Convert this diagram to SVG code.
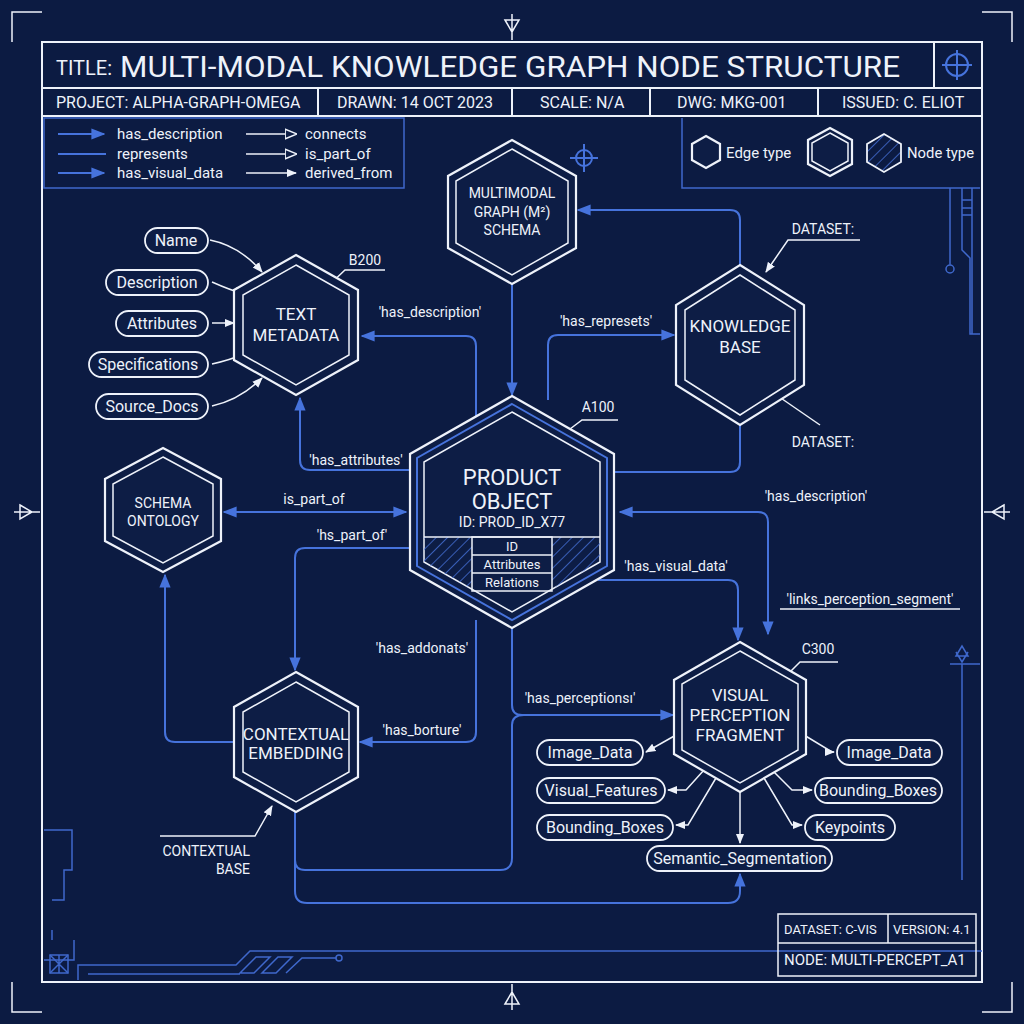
<svg xmlns="http://www.w3.org/2000/svg" width="1024" height="1024" viewBox="0 0 1024 1024">
<defs>
<style>
text{font-family:"Roboto","Liberation Sans",sans-serif;fill:#eef2fa}
.w{fill:none;stroke:#eef2fa;stroke-width:2}
.wt{fill:none;stroke:#eef2fa;stroke-width:1.5}
.b{fill:none;stroke:#4673dc;stroke-width:2}
.bt{fill:none;stroke:#3f68cc;stroke-width:1.5}
.hx{fill:#0d1d45;stroke:#eef2fa;stroke-width:2.2}
.pill{fill:#0d1d45;stroke:#eef2fa;stroke-width:1.8}
.pt{font-size:16px;text-anchor:middle}
.lb{font-size:14px;text-anchor:middle}
.nt{font-size:17px;text-anchor:middle}
</style>
<marker id="ab" viewBox="0 0 10 10" refX="9" refY="5" markerWidth="7" markerHeight="7" orient="auto-start-reverse"><path d="M0,1 L10,5 L0,9 z" fill="#4673dc"/></marker>
<marker id="aw" viewBox="0 0 10 10" refX="9" refY="5" markerWidth="7" markerHeight="7" orient="auto-start-reverse"><path d="M0,1 L10,5 L0,9 z" fill="#eef2fa"/></marker>
<marker id="ao" viewBox="0 0 10 10" refX="9" refY="5" markerWidth="8" markerHeight="8" orient="auto"><path d="M0,1 L10,5 L0,9 z" fill="#0d1d45" stroke="#eef2fa" stroke-width="1.2"/></marker>
<pattern id="hatch" width="8" height="8" patternUnits="userSpaceOnUse" patternTransform="rotate(45)"><line x1="0" y1="0" x2="0" y2="8" stroke="#4673dc" stroke-width="1.5"/></pattern>
<clipPath id="pclip"><polygon points="512,412 600,462 600,562 512,612 424,562 424,462"/></clipPath>
</defs>
<rect width="1024" height="1024" fill="#0c1b42"/>

<g id="frame">
<rect x="42" y="42" width="940" height="940" class="w"/>
<line x1="42" y1="88" x2="982" y2="88" class="w"/>
<line x1="42" y1="116" x2="982" y2="116" class="w"/>
<line x1="318" y1="88" x2="318" y2="116" class="w"/>
<line x1="512" y1="88" x2="512" y2="116" class="w"/>
<line x1="650" y1="88" x2="650" y2="116" class="w"/>
<line x1="818" y1="88" x2="818" y2="116" class="w"/>
<line x1="934" y1="42" x2="934" y2="88" class="w"/>
<text x="56" y="75" font-size="20">TITLE:</text>
<text x="120" y="77" font-size="30" textLength="780" lengthAdjust="spacingAndGlyphs">MULTI-MODAL KNOWLEDGE GRAPH NODE STRUCTURE</text>
<circle cx="957" cy="65" r="11" class="b"/><line x1="942" y1="65" x2="972" y2="65" class="b"/><line x1="957" y1="50" x2="957" y2="80" class="b"/>
<text x="56" y="108" font-size="16">PROJECT: ALPHA-GRAPH-OMEGA</text>
<text x="337" y="108" font-size="16">DRAWN: 14 OCT 2023</text>
<text x="540" y="108" font-size="16">SCALE: N/A</text>
<text x="677" y="108" font-size="16">DWG: MKG-001</text>
<text x="842" y="108" font-size="16">ISSUED: C. ELIOT</text>
<path d="M12,42 V12 H42 M982,12 H1012 V42 M12,982 V1012 H42 M982,1012 H1012 V982" class="wt"/>
<path d="M512,14 V40 M505,20 L512,32 L519,20 z M512,984 V1010 M505,1004 L512,992 L519,1004 z M14,512 H40 M20,505 L32,512 L20,519 z M984,512 H1010 M1004,505 L992,512 L1004,519 z" class="wt"/>
<circle cx="584" cy="158" r="8" class="b"/><path d="M570,158 H598 M584,144 V172" class="b"/>
</g>

<g id="legend-edges">
<rect x="44" y="118" width="360" height="70" class="bt"/>
<line x1="58" y1="134" x2="104" y2="134" class="b" marker-end="url(#ab)"/><text x="117" y="139" font-size="15">has_description</text>
<line x1="58" y1="154" x2="106" y2="154" class="b"/><text x="117" y="159" font-size="15">represents</text>
<line x1="58" y1="173" x2="104" y2="173" class="b" marker-end="url(#ab)"/><text x="117" y="178" font-size="15">has_visual_data</text>
<line x1="246" y1="134" x2="296" y2="134" class="wt" marker-end="url(#ao)"/><text x="305" y="139" font-size="15">connects</text>
<line x1="246" y1="154" x2="296" y2="154" class="wt" marker-end="url(#ao)"/><text x="305" y="159" font-size="15">is_part_of</text>
<line x1="246" y1="173" x2="296" y2="173" class="wt" marker-end="url(#aw)"/><text x="305" y="178" font-size="15">derived_from</text>
</g>
<g id="legend-nodes">
<path d="M682,118 V188 H980" class="bt"/>
<polygon points="706,136 720,144 720,160 706,168 692,160 692,144" class="hx"/>
<text x="726" y="158" font-size="15">Edge type</text>
<polygon points="830,128 852,140 852,164 830,176 808,164 808,140" class="hx"/>
<polygon points="830,133 848,143 848,161 830,171 812,161 812,143" class="wt"/>
<polygon points="884,134 901,144 901,162 884,172 867,162 867,144" fill="url(#hatch)" stroke="#eef2fa" stroke-width="1.8"/>
<text x="907" y="158" font-size="15" textLength="67" lengthAdjust="spacingAndGlyphs">Node type</text>
</g>

<g id="decor">
<path d="M950,188 V265 M946,269 a4,4 0 1 0 8,0 a4,4 0 1 0 -8,0 M962,188 V250 L970,258 V334 H980 M972,188 V334 M962,200 H972 M962,208 H972 M962,215 H972" class="bt"/>
<path d="M962,664 V880 M950,664 H980 M956,656 L962,646 L968,656 z M956,652 L962,662 L968,652" class="bt"/>
<path d="M44,830 H72 V870 H64 V900 H52 M52,930 V940 M44,960 H74 V940" class="bt"/>
<rect x="50" y="955" width="18" height="18" class="bt"/><path d="M50,955 L68,973 M68,955 L50,973 M59,955 V973" class="bt"/>
<path d="M78,980 V965 H236 L250,951 H982 M88,974 H240 M240,973 L256,957 H270 L254,973 z M262,973 L278,957 H292 L276,973 z M286,973 L302,958 H336 M336,958 a3,3 0 1 0 6,0 a3,3 0 1 0 -6,0" class="bt"/>
</g>

<g id="connectors">
<path d="M476,420 V346 Q476,336 466,336 H362" class="b" marker-end="url(#ab)"/>
<path d="M420,470 H310 Q300,470 300,460 V398" class="b" marker-end="url(#ab)"/>
<path d="M512,284 V395" class="b" marker-end="url(#ab)"/>
<path d="M548,400 V345 Q548,335 558,335 H674" class="b" marker-end="url(#ab)"/>
<path d="M740,265 V220 Q740,210 730,210 H578" class="b" marker-end="url(#ab)"/>
<path d="M614,472 H730 Q740,472 740,462 V408" class="b" marker-end="url(#ab)"/>
<path d="M768,634 V522 Q768,512 758,512 H620" class="b" marker-start="url(#ab)" marker-end="url(#ab)"/>
<path d="M598,580 H728 Q738,580 738,590 V640" class="b" marker-end="url(#ab)"/>
<path d="M224,512 H406" class="b" marker-start="url(#ab)" marker-end="url(#ab)"/>
<path d="M420,548 H305 Q295,548 295,558 V670" class="b" marker-end="url(#ab)"/>
<path d="M234,742 H175 Q165,742 165,732 V575" class="b" marker-end="url(#ab)"/>
<path d="M476,620 V732 Q476,742 466,742 H360" class="b" marker-end="url(#ab)"/>
<path d="M512,628 V705 Q512,715 522,715 H673" class="b" marker-end="url(#ab)"/>
<path d="M295,812 V860 Q295,870 305,870 H500 Q512,870 512,858 V725 Q512,715 524,715" class="b"/>
<path d="M295,860 V891 Q295,903 307,903 H728 Q740,903 740,891 V874" class="b" marker-end="url(#ab)"/>
<path d="M780,609 H960" class="wt"/>
<path d="M210,240 Q240,246 262,272" class="wt" marker-end="url(#aw)"/>
<path d="M212,282 Q230,290 244,294" class="wt" marker-end="url(#aw)"/>
<path d="M212,323 H234" class="wt" marker-end="url(#aw)"/>
<path d="M212,364 Q230,360 244,354" class="wt" marker-end="url(#aw)"/>
<path d="M212,406 Q240,400 262,378" class="wt" marker-end="url(#aw)"/>
<path d="M676,735 L646,752" class="wt" marker-end="url(#aw)"/>
<path d="M704,770 L686,790 H668" class="wt" marker-end="url(#aw)"/>
<path d="M716,778 L688,825 H676" class="wt" marker-end="url(#aw)"/>
<path d="M740,790 V843" class="wt" marker-end="url(#aw)"/>
<path d="M804,735 L832,752 H834" class="wt" marker-end="url(#aw)"/>
<path d="M774,772 L792,790 H812" class="wt" marker-end="url(#aw)"/>
<path d="M764,778 L792,825 H802" class="wt" marker-end="url(#aw)"/>
<path d="M385,270 H345 L326,288" class="wt"/>
<path d="M618,420 H582 L566,432" class="wt"/>
<path d="M838,662 H800 L784,678" class="wt"/>
<path d="M860,240 H788 L766,272" class="wt" marker-end="url(#aw)"/>
<path d="M820,425 L772,392" class="wt" marker-end="url(#aw)"/>
<path d="M160,836 H255 L272,806" class="wt" marker-end="url(#aw)"/>
</g>

<g id="edge-labels">
<text x="430" y="317" class="lb">'has_description'</text>
<text x="356" y="465" class="lb">'has_attributes'</text>
<text x="606" y="326" class="lb">'has_represets'</text>
<text x="314" y="504" class="lb">is_part_of</text>
<text x="352" y="540" class="lb">'hs_part_of'</text>
<text x="816" y="501" class="lb">'has_description'</text>
<text x="676" y="571" class="lb">'has_visual_data'</text>
<text x="870" y="604" class="lb">'links_perception_segment'</text>
<text x="422" y="653" class="lb">'has_addonats'</text>
<text x="422" y="735" class="lb">'has_borture'</text>
<text x="580" y="703" class="lb">'has_perceptionsı'</text>
<text x="365" y="265" class="lb" font-size="15">B200</text>
<text x="598" y="412" class="lb" font-size="16">A100</text>
<text x="818" y="654" class="lb" font-size="16">C300</text>
<text x="823" y="234" class="lb">DATASET:</text>
<text x="823" y="447" class="lb">DATASET:</text>
<text x="250" y="856" font-size="14" text-anchor="end">CONTEXTUAL</text>
<text x="250" y="874" font-size="14" text-anchor="end">BASE</text>
</g>

<g id="node-text-metadata">
<polygon points="296,255 358,290 358,360 296,395 234,360 234,290" class="hx"/>
<polygon points="296,265 349,295 349,355 296,385 243,355 243,295" class="wt"/>
<text x="296" y="320" class="nt">TEXT</text><text x="296" y="341" class="nt">METADATA</text>
</g>
<g id="node-schema">
<polygon points="512,140 576,176 576,248 512,284 448,248 448,176" class="hx"/>
<polygon points="512,149 568,181 568,243 512,275 456,243 456,181" class="wt"/>
<text x="512" y="198" class="lb">MULTIMODAL</text><text x="512" y="217" class="lb">GRAPH (M²)</text><text x="512" y="235" class="lb">SCHEMA</text>
</g>
<g id="node-knowledge-base">
<polygon points="740,265 804,305 804,385 740,425 676,385 676,305" class="hx"/>
<polygon points="740,275 795,310 795,380 740,415 685,380 685,310" class="wt"/>
<text x="740" y="332" class="nt">KNOWLEDGE</text><text x="740" y="353" class="nt">BASE</text>
</g>
<g id="node-product">
<polygon points="512,396 614,454 614,570 512,628 410,570 410,454" class="hx"/>
<polygon points="512,404 607,458 607,566 512,620 417,566 417,458" fill="none" stroke="#4673dc" stroke-width="2"/>
<polygon points="512,412 600,462 600,562 512,612 424,562 424,462" class="wt"/>
<g clip-path="url(#pclip)">
<rect x="424" y="537" width="48" height="80" fill="url(#hatch)"/>
<rect x="552" y="537" width="50" height="80" fill="url(#hatch)"/>
</g>
<line x1="424" y1="537" x2="600" y2="537" class="wt"/>
<rect x="472" y="537" width="80" height="54" class="wt"/>
<line x1="472" y1="555" x2="552" y2="555" class="wt"/><line x1="472" y1="573" x2="552" y2="573" class="wt"/>
<text x="512" y="485" font-size="22" text-anchor="middle">PRODUCT</text>
<text x="512" y="509" font-size="22" text-anchor="middle">OBJECT</text>
<text x="512" y="527" font-size="14" text-anchor="middle">ID: PROD_ID_X77</text>
<text x="512" y="551" font-size="13" text-anchor="middle">ID</text>
<text x="512" y="569" font-size="13" text-anchor="middle">Attributes</text>
<text x="512" y="587" font-size="13" text-anchor="middle">Relations</text>
</g>
<g id="node-ontology">
<polygon points="163,448 221,479 221,541 163,572 105,541 105,479" class="hx"/>
<polygon points="163,457 213,484 213,536 163,563 113,536 113,484" class="wt"/>
<text x="163" y="508" class="lb" font-size="15">SCHEMA</text><text x="163" y="526" class="lb" font-size="15">ONTOLOGY</text>
</g>
<g id="node-contextual">
<polygon points="296,672 358,707 358,777 296,812 234,777 234,707" class="hx"/>
<polygon points="296,682 349,712 349,772 296,802 243,772 243,712" class="wt"/>
<text x="296" y="740" class="nt" font-size="16">CONTEXTUAL</text><text x="296" y="759" class="nt" font-size="16">EMBEDDING</text>
</g>
<g id="node-visual">
<polygon points="740,642 806,680 806,754 740,792 674,754 674,680" class="hx"/>
<polygon points="740,651 798,684 798,750 740,783 682,750 682,684" class="wt"/>
<text x="740" y="701" class="nt">VISUAL</text><text x="740" y="721" class="nt">PERCEPTION</text><text x="740" y="741" class="nt">FRAGMENT</text>
</g>

<g id="pills">
<rect x="145" y="228" width="63" height="25" rx="12.5" class="pill"/><text x="176" y="246" class="pt">Name</text>
<rect x="106" y="270" width="102" height="25" rx="12.5" class="pill"/><text x="157" y="288" class="pt">Description</text>
<rect x="116" y="311" width="92" height="25" rx="12.5" class="pill"/><text x="162" y="329" class="pt">Attributes</text>
<rect x="89" y="352" width="119" height="25" rx="12.5" class="pill"/><text x="148" y="370" class="pt">Specifications</text>
<rect x="96" y="394" width="112" height="25" rx="12.5" class="pill"/><text x="152" y="412" class="pt">Source_Docs</text>
<rect x="537" y="740" width="106" height="25" rx="12.5" class="pill"/><text x="590" y="758" class="pt">Image_Data</text>
<rect x="537" y="778" width="128" height="25" rx="12.5" class="pill"/><text x="601" y="796" class="pt">Visual_Features</text>
<rect x="537" y="815" width="136" height="25" rx="12.5" class="pill"/><text x="605" y="833" class="pt">Bounding_Boxes</text>
<rect x="647" y="846" width="185" height="25" rx="12.5" class="pill"/><text x="740" y="864" class="pt">Semantic_Segmentation</text>
<rect x="837" y="740" width="105" height="25" rx="12.5" class="pill"/><text x="889" y="758" class="pt">Image_Data</text>
<rect x="815" y="778" width="127" height="25" rx="12.5" class="pill"/><text x="878" y="796" class="pt">Bounding_Boxes</text>
<rect x="805" y="815" width="90" height="25" rx="12.5" class="pill"/><text x="850" y="833" class="pt">Keypoints</text>
</g>

<g id="info-box">
<rect x="778" y="914" width="198" height="62" class="wt"/>
<line x1="778" y1="943" x2="976" y2="943" class="wt"/>
<line x1="888" y1="914" x2="888" y2="943" class="wt"/>
<text x="784" y="934" font-size="13">DATASET: C-VIS</text>
<text x="893" y="934" font-size="13">VERSION: 4.1</text>
<text x="784" y="965" font-size="15">NODE: MULTI-PERCEPT_A1</text>
</g>
</svg>
